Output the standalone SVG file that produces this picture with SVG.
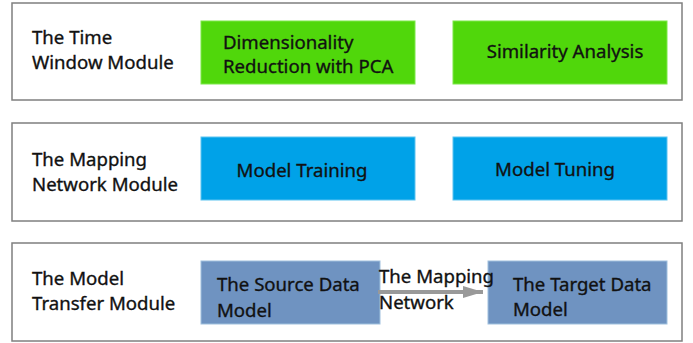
<svg xmlns="http://www.w3.org/2000/svg" width="693" height="343" viewBox="0 0 693 343">
<defs>
<style>
.frame{fill:#fff;stroke:#7f7f7f;stroke-width:1.5}
.g{fill:#50D70B;stroke:#7de84a;stroke-width:1}
.b{fill:#00A2E8;stroke:#5cc3f0;stroke-width:1}
.s{fill:#6F93C1;stroke:#9fc0dd;stroke-width:1}
text{font-family:"Noto Sans","Open Sans","Liberation Sans",sans-serif;font-size:18.6px;fill:#111;stroke:#111;stroke-width:0.35}
</style>
<marker id="ah" viewBox="0 0 20 12" refX="20" refY="6" markerWidth="20" markerHeight="12" markerUnits="userSpaceOnUse" orient="auto">
<path d="M0,0 L20,6 L0,12 Z" fill="#999"/>
</marker>
</defs>
<g id="module-time">
<rect class="frame" x="12" y="3" width="670" height="97"/>
<text x="32" y="44">The Time</text>
<text x="32" y="69">Window Module</text>
</g>
<g id="node-pca">
<rect class="g" x="201" y="21" width="214" height="63"/>
<text x="223" y="49">Dimensionality</text>
<text x="223" y="73">Reduction with PCA</text>
</g>
<g id="node-similarity">
<rect class="g" x="453" y="21" width="214" height="63"/>
<text x="565" y="58" text-anchor="middle">Similarity Analysis</text>
</g>
<g id="module-mapping">
<rect class="frame" x="12" y="123" width="670" height="98"/>
<text x="32" y="166">The Mapping</text>
<text x="32" y="191">Network Module</text>
</g>
<g id="node-training">
<rect class="b" x="201" y="137" width="214" height="63"/>
<text x="302" y="177" text-anchor="middle">Model Training</text>
</g>
<g id="node-tuning">
<rect class="b" x="453" y="137" width="214" height="63"/>
<text x="555" y="176" text-anchor="middle">Model Tuning</text>
</g>
<g id="module-transfer">
<rect class="frame" x="12" y="243" width="670" height="98"/>
<text x="32" y="285">The Model</text>
<text x="32" y="310">Transfer Module</text>
</g>
<g id="node-source">
<rect class="s" x="201" y="261" width="179" height="63"/>
<text x="217" y="291">The Source Data</text>
<text x="217" y="317">Model</text>
</g>
<g id="node-target">
<rect class="s" x="488" y="261" width="179" height="63"/>
<text x="513" y="291">The Target Data</text>
<text x="513" y="316">Model</text>
</g>
<g id="connectors">
<line x1="378" y1="292" x2="483" y2="292" stroke="#999" stroke-width="4" marker-end="url(#ah)"/>
<text x="379" y="283">The Mapping</text>
<text x="379" y="309">Network</text>
</g>
</svg>
